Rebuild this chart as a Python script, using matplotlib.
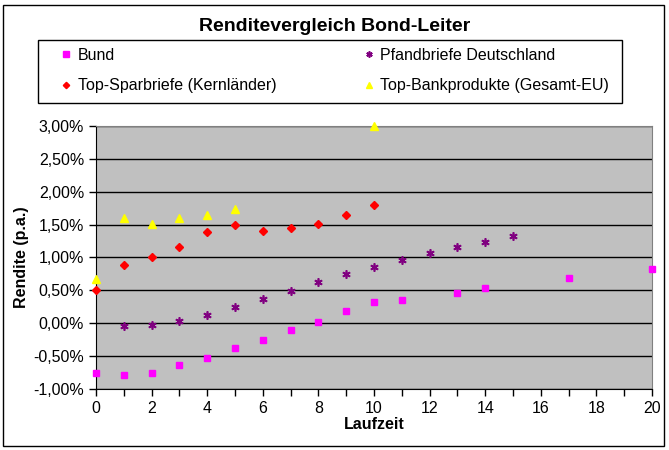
import matplotlib
matplotlib.use("Agg")
import matplotlib.pyplot as plt
from matplotlib.patches import Rectangle
from matplotlib.ticker import MultipleLocator, FuncFormatter

plt.rcParams['font.family'] = ['Liberation Sans', 'DejaVu Sans']

# Daten (Laufzeit in Jahren, Rendite in %)
bund_x = [0, 1, 2, 3, 4, 5, 6, 7, 8, 9, 10, 11, 13, 14, 17, 20]
bund_y = [-0.75, -0.78, -0.75, -0.64, -0.53, -0.37, -0.26, -0.11, 0.02, 0.19, 0.33, 0.35, 0.46, 0.54, 0.69, 0.83]

pfand_x = [1, 2, 3, 4, 5, 6, 7, 8, 9, 10, 11, 12, 13, 14, 15]
pfand_y = [-0.04, -0.02, 0.04, 0.13, 0.25, 0.37, 0.49, 0.63, 0.75, 0.86, 0.96, 1.07, 1.16, 1.24, 1.33]

spar_x = [0, 1, 2, 3, 4, 5, 6, 7, 8, 9, 10]
spar_y = [0.50, 0.88, 1.01, 1.16, 1.39, 1.50, 1.40, 1.45, 1.51, 1.65, 1.80]

bank_x = [0, 1, 2, 3, 4, 5, 10]
bank_y = [0.68, 1.60, 1.51, 1.60, 1.65, 1.74, 3.00]

FS = 11.5

fig = plt.figure(figsize=(6.69, 4.5), dpi=100)
# aeusserer Rahmen und Legendenrahmen
fig.patches.append(Rectangle((0.005, 0.008), 0.987, 0.982, transform=fig.transFigure,
                             fill=False, edgecolor='black', linewidth=1))
fig.patches.append(Rectangle((38 / 669, 1 - 103 / 450), 584 / 669, 63 / 450, transform=fig.transFigure,
                             fill=False, edgecolor='black', linewidth=1))

ax = fig.add_axes([0.1435, 0.1356, 0.8311, 0.5844])
ax.set_facecolor('#C0C0C0')

h1, = ax.plot(bund_x, bund_y, ls='none', marker='s', ms=5, color='#FF00FF', label='Bund', clip_on=False, zorder=3)
h2, = ax.plot(pfand_x, pfand_y, ls='none', marker=(6, 2, 0), ms=6, mew=1.2, color='#800080', label='Pfandbriefe Deutschland', clip_on=False, zorder=3)
h3, = ax.plot(spar_x, spar_y, ls='none', marker='D', ms=4.3, color='#FF0000', label='Top-Sparbriefe (Kernländer)', clip_on=False, zorder=3)
h4, = ax.plot(bank_x, bank_y, ls='none', marker='^', ms=6, color='#FFFF00', label='Top-Bankprodukte (Gesamt-EU)', clip_on=False, zorder=3)

ax.set_xlim(0, 20)
ax.set_ylim(-1.0, 3.0)
ax.xaxis.set_major_locator(MultipleLocator(2))
ax.xaxis.set_minor_locator(MultipleLocator(1))
ax.yaxis.set_major_locator(MultipleLocator(0.5))
ax.yaxis.set_major_formatter(FuncFormatter(lambda v, p: f"{v:.2f}%".replace('.', ',')))
ax.grid(axis='y', color='black', linewidth=1)
ax.set_axisbelow(True)
ax.tick_params(axis='both', which='both', direction='out', labelsize=FS, color='black', width=1)
ax.tick_params(axis='both', which='major', length=5)
ax.tick_params(axis='x', which='minor', length=5)
for s in ['top', 'right']:
    ax.spines[s].set_color('#808080')
for s in ['left', 'bottom']:
    ax.spines[s].set_color('black')

ax.set_xlabel('Laufzeit', fontsize=FS, fontweight='bold', labelpad=1)
ax.set_ylabel('Rendite (p.a.)', fontsize=FS, fontweight='bold', labelpad=3)

fig.text(0.5, 0.942, 'Renditevergleich Bond-Leiter', ha='center', va='center', fontsize=14, fontweight='bold')

# Reihenfolge so, dass zeilenweise Bund | Pfandbriefe, Sparbriefe | Bankprodukte
leg = fig.legend([h1, h3, h2, h4], [h1.get_label(), h3.get_label(), h2.get_label(), h4.get_label()],
                 loc='center left', bbox_to_anchor=(60 / 669, 1 - 70.5 / 450),
                 ncol=2, fontsize=FS, frameon=False, markerscale=0.75,
                 handlelength=0.8, handletextpad=0.3, borderpad=0, borderaxespad=0,
                 labelspacing=1.0, columnspacing=5.4)

fig.savefig('out.png', dpi=100)
